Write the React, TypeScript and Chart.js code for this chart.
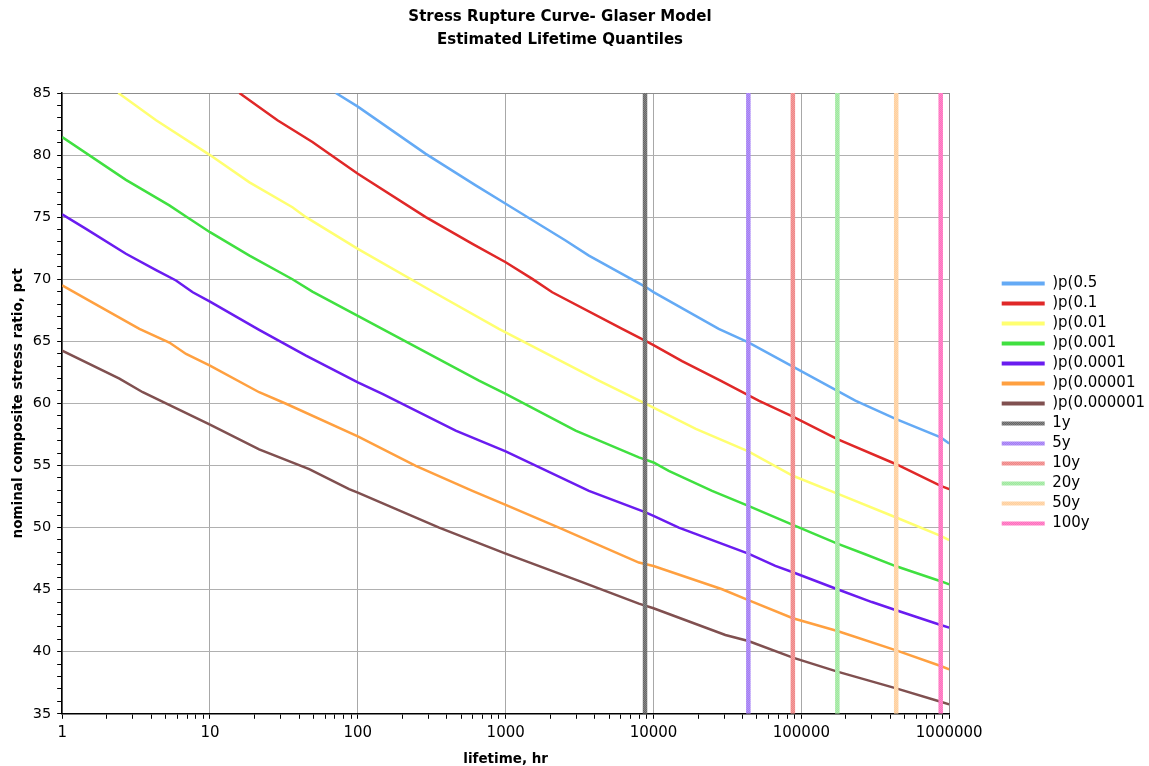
import React, { useEffect, useRef } from "react";
import { Chart, registerables } from "chart.js";

Chart.register(...registerables);

// hours and nominal stress ratio (pct), per quantile
const p05X = [71, 100, 288, 627, 1000, 2541, 3656, 8760, 10000, 27606, 43800, 87600, 231739, 438000, 876000, 1000000];
const p05Y = [85, 83.9, 80.1, 77.56, 76.08, 73.12, 71.9, 69.41, 68.96, 66.0, 64.92, 62.96, 60.22, 58.74, 57.26, 56.77];

const p01X = [15.8, 28.6, 49.3, 64, 100, 288, 596, 1000, 1514, 2065, 6138, 8760, 10000, 15596, 28379, 51404, 87600, 175200, 438000, 876000, 1000000];
const p01Y = [85, 82.8, 81.05, 80.1, 78.5, 75.0, 72.85, 71.37, 70.03, 68.95, 66.0, 65.06, 64.7, 63.4, 61.83, 60.22, 58.93, 57.13, 55.1, 53.36, 53.1];

const p001X = [2.4, 4.32, 10, 18.5, 36.1, 44.6, 100, 311, 899.5, 4266, 8760, 19320, 43800, 87600, 175200, 438000, 876000, 1000000];
const p001Y = [85, 82.8, 80.0, 77.8, 75.8, 75.0, 72.45, 69.09, 66.0, 61.83, 60.0, 57.94, 56.13, 54.17, 52.74, 50.81, 49.33, 48.98];

const p0001X = [1, 2.7, 5.31, 6.89, 10, 18.5, 36.1, 49.3, 100, 660, 1000, 2972, 7958, 10000, 12677, 24889, 43800, 87600, 175200, 270396, 438000, 876000, 1000000];
const p0001Y = [81.45, 78.0, 75.95, 75.05, 73.79, 71.9, 70.0, 69.0, 67.05, 61.83, 60.76, 57.8, 55.65, 55.24, 54.57, 52.96, 51.75, 50.22, 48.71, 47.85, 46.88, 45.68, 45.42];

const p00001X = [1, 1.45, 2.7, 4.32, 5.89, 7.64, 10, 21.5, 44.6, 100, 146.6, 459, 1000, 3656, 8760, 10000, 14825, 43800, 66680, 87600, 175200, 299916, 438000, 876000, 1000000];
const p00001Y = [75.22, 74.06, 72.05, 70.73, 69.9, 68.95, 68.2, 65.92, 63.85, 61.7, 60.76, 57.8, 56.13, 52.96, 51.25, 50.94, 50.0, 47.9, 46.91, 46.4, 45.03, 44.0, 43.34, 42.15, 41.94];

const p000001X = [1, 1.61, 3.33, 5.31, 6.89, 10, 21.5, 32.7, 100, 246.6, 595.7, 1000, 2291, 7958, 10000, 29107, 43800, 87600, 175200, 438000, 876000, 1000000];
const p000001Y = [69.5, 68.12, 66.0, 64.9, 63.98, 63.04, 60.9, 59.97, 57.35, 54.97, 52.96, 51.83, 50.0, 47.18, 46.9, 45.03, 44.15, 42.7, 41.67, 40.11, 38.85, 38.58];

const p0000001X = [1, 2.44, 3.51, 10, 21.5, 46.9, 87.3, 100, 354.8, 1000, 3126, 7958, 10000, 30620, 43800, 87600, 175200, 438000, 876000, 1000000];
const p0000001Y = [64.25, 62.0, 60.9, 58.29, 56.3, 54.7, 53.1, 52.82, 50.0, 47.9, 45.7, 43.87, 43.5, 41.35, 40.86, 39.52, 38.4, 37.05, 35.97, 35.76];

const seriesNames = [")p(0.5", ")p(0.1", ")p(0.01", ")p(0.001", ")p(0.0001", ")p(0.00001", ")p(0.000001"];
const seriesColors = ["#64aaf5", "#e02828", "#ffff70", "#40e040", "#6a1cf0", "#ffa040", "#805050"];

const markerNames = ["1y", "5y", "10y", "20y", "50y", "100y"];
const markerHours = [8760, 43800, 87600, 175200, 438000, 876000];
const markerColors = ["#666666", "#a27cf5", "#f08585", "#9de89d", "#ffcf9c", "#ff6ebe"];

const xTicks = [1, 2, 3, 4, 5, 6, 7, 8, 9, 10, 20, 30, 40, 50, 60, 70, 80, 90, 100, 200, 300, 400, 500, 600, 700, 800, 900,
  1000, 2000, 3000, 4000, 5000, 6000, 7000, 8000, 9000, 10000, 20000, 30000, 40000, 50000, 60000, 70000, 80000, 90000,
  100000, 200000, 300000, 400000, 500000, 600000, 700000, 800000, 900000, 1000000];
const xLabels = ["1", "10", "100", "1000", "10000", "100000", "1000000"];
const yMin = 35;
const yMax = 85;

function pts(xs: number[], ys: number[]) {
  return xs.map((x, i) => ({ x, y: ys[i] }));
}

function makePattern(color: string): CanvasPattern | string {
  const c = document.createElement("canvas");
  c.width = 2;
  c.height = 2;
  const g = c.getContext("2d");
  if (!g) return color;
  g.fillStyle = color;
  g.fillRect(0, 0, 2, 2);
  g.fillStyle = "rgba(255,255,255,0.22)";
  g.fillRect(0, 0, 1, 1);
  g.fillRect(1, 1, 1, 1);
  const p = g.createPattern(c, "repeat");
  return p || color;
}

export default function App() {
  const ref = useRef<HTMLCanvasElement | null>(null);
  useEffect(() => {
    if (!ref.current) return;
    const seriesData = [
      pts(p05X, p05Y),
      pts(p01X, p01Y),
      pts(p001X, p001Y),
      pts(p0001X, p0001Y),
      pts(p00001X, p00001Y),
      pts(p000001X, p000001Y),
      pts(p0000001X, p0000001Y),
    ];
    const datasets: any[] = seriesNames.map((n, i) => ({
      label: n,
      data: seriesData[i],
      borderColor: seriesColors[i],
      backgroundColor: seriesColors[i],
      borderWidth: 2.5,
      pointRadius: 0,
      tension: 0,
      order: 1,
    }));
    markerNames.forEach((n, i) => {
      const pat = makePattern(markerColors[i]);
      datasets.push({
        label: n,
        data: [{ x: markerHours[i], y: yMin }, { x: markerHours[i], y: yMax }],
        borderColor: pat,
        backgroundColor: pat,
        borderWidth: 4.5,
        pointRadius: 0,
        order: 0,
      });
    });
    const family = "'DejaVu Sans', Verdana, sans-serif";
    const chart = new Chart(ref.current, {
      type: "line",
      data: { datasets },
      options: {
        animation: false,
        responsive: true,
        maintainAspectRatio: false,
        layout: { padding: { left: 5, right: 0, top: 0, bottom: 0 } },
        plugins: {
          title: {
            display: true,
            text: ["Stress Rupture Curve- Glaser Model", "Estimated Lifetime Quantiles"],
            color: "#000",
            font: { family, size: 15, weight: "bold", lineHeight: 23 / 15 },
            padding: { top: 5.5, bottom: 41.5 },
          },
          legend: {
            position: "right",
            fullSize: false,
            labels: {
              color: "#000",
              font: { family, size: 15 },
              boxWidth: 43,
              boxHeight: 4,
              padding: 5,
              sort: (a: any, b: any) => a.datasetIndex - b.datasetIndex,
              generateLabels: (ch: any) =>
                (Chart.defaults.plugins.legend.labels.generateLabels as any)(ch).map((it: any) => ({
                  ...it,
                  lineWidth: 0,
                })),
            },
          },
          tooltip: { enabled: false },
        },
        scales: {
          x: {
            type: "logarithmic",
            min: 1,
            max: 1000000,
            afterBuildTicks: (scale: any) => {
              scale.ticks = xTicks.map((v) => ({ value: v }));
            },
            ticks: {
              autoSkip: false,
              maxRotation: 0,
              minRotation: 0,
              color: "#000",
              font: { family, size: 15 },
              padding: 5,
              callback: (v: any) => {
                const s = String(v);
                return xLabels.includes(s) ? s : "";
              },
            },
            grid: {
              color: (ctx: any) => {
                const s = ctx.tick ? String(ctx.tick.value) : "";
                if (s === "1000000") return "#8c8c8c";
                return xLabels.includes(s) ? "#a8a8a8" : "rgba(0,0,0,0)";
              },
              tickColor: "#000",
              tickLength: 5,
            },
            border: { color: "#000", width: 1.5 },
            title: {
              display: true,
              text: "lifetime, hr",
              color: "#000",
              font: { family, size: 13.5, weight: "bold" },
              padding: { top: 5, bottom: -2 },
            },
          },
          y: {
            type: "linear",
            min: yMin,
            max: yMax,
            ticks: {
              stepSize: 1,
              autoSkip: false,
              color: "#000",
              font: { family, size: 14.5 },
              padding: 6,
              callback: (v: any) => (Number(v) % 5 === 0 ? String(v) : ""),
            },
            grid: {
              color: (ctx: any) => {
                if (!ctx.tick) return "rgba(0,0,0,0)";
                if (ctx.tick.value === yMax) return "#8c8c8c";
                return ctx.tick.value % 5 === 0 ? "#b0b0b0" : "rgba(0,0,0,0)";
              },
              tickColor: "#000",
              tickLength: 5,
            },
            border: { color: "#000", width: 1.5 },
            title: {
              display: true,
              text: "nominal composite stress ratio, pct",
              color: "#000",
              font: { family, size: 13.5, weight: "bold" },
              padding: { top: 45.5, bottom: 0 },
            },
          },
          gap: {
            type: "linear",
            position: "right",
            display: true,
            min: 0,
            max: 1,
            grid: { display: false, drawTicks: false },
            border: { display: false },
            ticks: { display: false },
            afterFit: (scale: any) => {
              scale.width = 47.5;
            },
          },
        },
      } as any,
    });
    return () => chart.destroy();
  }, []);
  return (
    <div style={{ position: "absolute", left: 0, top: 0, width: 1149, height: 766, overflow: "hidden", background: "#fff" }}>
      <div style={{ position: "absolute", left: -40, top: 0, width: 1195, height: 766 }}>
        <canvas ref={ref} />
      </div>
    </div>
  );
}
